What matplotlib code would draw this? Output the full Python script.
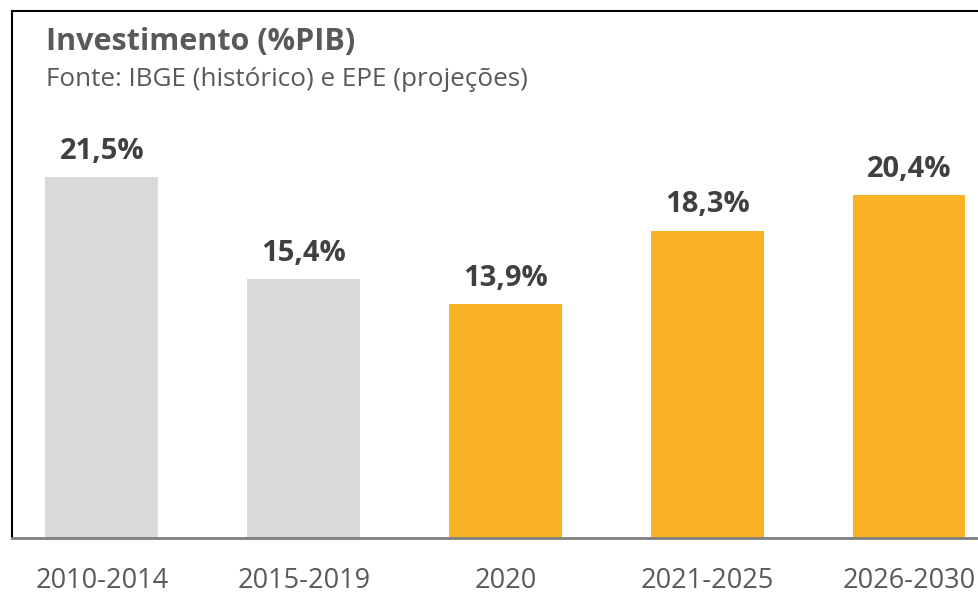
import matplotlib.pyplot as plt
import numpy as np

plt.rcParams['font.family'] = ['Open Sans', 'DejaVu Sans']

# Dados
periodos = ["2010-2014", "2015-2019", "2020", "2021-2025", "2026-2030"]
investimento = [21.5, 15.4, 13.9, 18.3, 20.4]
cores = ["#D9D9D9", "#D9D9D9", "#F9B226", "#F9B226", "#F9B226"]
rotulos = ["21,5%", "15,4%", "13,9%", "18,3%", "20,4%"]

fig = plt.figure(figsize=(9.79, 6.10), dpi=100)
ax = fig.add_axes([12/979, 72/610, 967/979, 527/610])

indeks = np.arange(len(periodos))
ax.bar(indeks, investimento, width=0.56, color=cores)

for i, v in enumerate(investimento):
    ax.annotate(rotulos[i], (indeks[i], v), xytext=(0, 8), textcoords="offset points",
                ha="center", va="bottom", fontsize=21, fontweight="bold", color="#404040")

ax.set_xlim(-0.446, 4.347)
ax.set_ylim(0, 31.37)
ax.set_yticks([])
ax.set_xticks(indeks)
ax.set_xticklabels(periodos, fontsize=19.5, color="#595959")
ax.tick_params(axis="x", length=0, pad=21)

ax.spines["right"].set_visible(False)
ax.spines["left"].set_color("black")
ax.spines["left"].set_linewidth(1.5)
ax.spines["top"].set_color("black")
ax.spines["top"].set_linewidth(1.5)
ax.spines["bottom"].set_color("#7F7F7F")
ax.spines["bottom"].set_linewidth(2)

fig.text(46/979, 1 - 42/610, "Investimento (%PIB)", fontsize=22, fontweight="bold",
         color="#595959", va="center", ha="left")
fig.text(46/979, 1 - 80/610, "Fonte: IBGE (histórico) e EPE (projeções)", fontsize=18.8,
         color="#595959", va="center", ha="left")

fig.savefig("out.png", dpi=100)
